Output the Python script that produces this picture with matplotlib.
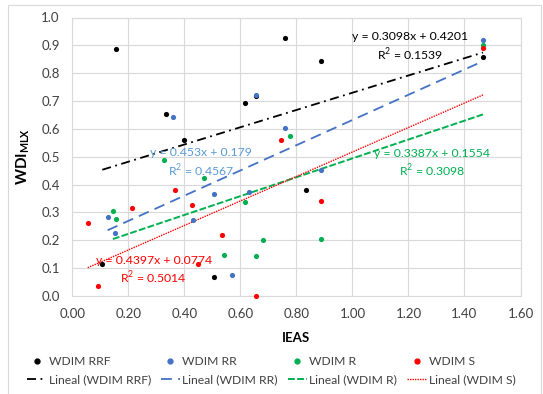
import matplotlib
matplotlib.use("Agg")
import matplotlib.pyplot as plt
from matplotlib.lines import Line2D
from matplotlib.patches import Rectangle
import numpy as np

plt.rcParams['font.family'] = ['Lato', 'DejaVu Sans']
plt.rcParams['mathtext.fontset'] = 'custom'
plt.rcParams['mathtext.rm'] = 'Lato'
plt.rcParams['mathtext.bf'] = 'Lato:bold'

# Series data (IEAS vs WDI_MLX)
rrf_x = [0.155, 0.760, 0.335, 0.617, 0.655, 0.400, 0.887, 1.466, 0.835, 0.107, 0.507]
rrf_y = [0.888, 0.927, 0.655, 0.693, 0.718, 0.560, 0.845, 0.859, 0.382, 0.114, 0.067]

rr_x = [0.360, 0.657, 0.760, 1.466, 0.505, 0.630, 0.126, 0.430, 0.154, 0.569, 0.887]
rr_y = [0.644, 0.723, 0.602, 0.918, 0.368, 0.374, 0.283, 0.272, 0.225, 0.074, 0.453]

r_x = [0.776, 1.466, 0.327, 0.470, 0.617, 0.145, 0.155, 0.682, 0.542, 0.657, 0.887]
r_y = [0.575, 0.901, 0.490, 0.424, 0.339, 0.304, 0.276, 0.200, 0.149, 0.142, 0.205]

s_x = [0.744, 1.466, 0.367, 0.214, 0.055, 0.426, 0.535, 0.448, 0.091, 0.656, 0.887]
s_y = [0.560, 0.891, 0.380, 0.317, 0.261, 0.326, 0.218, 0.115, 0.037, 0.000, 0.340]

# Linear trend coefficients (slope, intercept, R²)
rrf_fit = (0.3098, 0.4201, 0.1539)
rr_fit = (0.453, 0.179, 0.4567)
r_fit = (0.3387, 0.1554, 0.3098)
s_fit = (0.4397, 0.0774, 0.5014)

series_names = ["WDIM RRF", "WDIM RR", "WDIM R", "WDIM S"]
x_ticks = [0.0, 0.2, 0.4, 0.6, 0.8, 1.0, 1.2, 1.4, 1.6]
y_ticks = [0.0, 0.1, 0.2, 0.3, 0.4, 0.5, 0.6, 0.7, 0.8, 0.9, 1.0]

W, H = 543, 394
fig = plt.figure(figsize=(W / 100, H / 100), dpi=100)
ax = fig.add_axes([72.3 / W, 1 - 296 / H, (520.5 - 72.3) / W, (296 - 17.5) / H])

grid_c = '#D9D9D9'
ax.set_xlim(0, 1.6)
ax.set_ylim(0, 1.0)
ax.set_xticks(x_ticks)
ax.set_yticks(y_ticks)
ax.set_xticklabels([f"{v:.2f}" for v in x_ticks])
ax.set_yticklabels([f"{v:.1f}" for v in y_ticks])
ax.grid(True, color=grid_c, linewidth=0.8)
ax.set_axisbelow(True)
for sp in ax.spines.values():
    sp.set_color(grid_c)
    sp.set_linewidth(0.8)
ax.tick_params(length=0, labelsize=9.5, colors='#404040', pad=9)

colors = ['#000000', '#4472C4', '#00B050', '#FF0000']
line_styles = [(0, (5, 2.5, 1, 2.5)), (0, (6, 3.5)), (0, (3.5, 1.2)), (0, (1, 0.8))]
line_widths = [1.3, 1.3, 1.4, 1.0]
xs = [rrf_x, rr_x, r_x, s_x]
ys = [rrf_y, rr_y, r_y, s_y]
fits = [rrf_fit, rr_fit, r_fit, s_fit]

handles_pts, handles_lines = [], []
for name, c, x, y, fit, ls, lw in zip(series_names, colors, xs, ys, fits, line_styles, line_widths):
    ax.scatter(x, y, s=14, color=c, zorder=3, clip_on=False, linewidths=0)
    xx = np.array([min(x), max(x)])
    ax.plot(xx, fit[0] * xx + fit[1], color=c, linestyle=ls, linewidth=lw, zorder=2)
    handles_pts.append(Line2D([], [], marker='o', markersize=3.5, color=c, linestyle='none', label=name))
    handles_lines.append(Line2D([], [], color=c, linestyle=ls, linewidth=lw, label=f"Lineal ({name})"))

# Trend equations
eq_colors = ['#000000', '#5B9BD5', '#00B050', '#FF0000']
eq_pos = [(1.207, 0.893), (0.460, 0.476), (1.284, 0.474), (0.291, 0.090)]
for (sl, ic, r2), c, (px, py) in zip(fits, eq_colors, eq_pos):
    ax.text(px, py, f"y = {sl}x + {ic}\nR$^2$ = {r2}", color=c, fontsize=8.8,
            ha='center', va='center', linespacing=1.3, zorder=4)

ax.set_xlabel("IEAS", fontsize=9.5, fontweight='bold', color='#000000', labelpad=8)
ax.set_ylabel(r"$\mathbf{WDI_{MLX}}$", fontsize=11, color='#000000', labelpad=7)

# Legend (column-major order gives marker row on top, trend row below)
handles = []
for hp, hl in zip(handles_pts, handles_lines):
    handles += [hp, hl]
fig.legend(handles=handles, ncol=4, loc='center left', bbox_to_anchor=(27 / W, 1 - 371 / H),
           frameon=False, fontsize=8.7, handlelength=1.6, handletextpad=0.2,
           columnspacing=0.8, labelspacing=0.6, labelcolor='#404040',
           borderaxespad=0, borderpad=0)

# Chart area border
fig.patches.append(Rectangle((7.5 / W, -0.05), (541 - 7.5) / W, 1.05 - 5 / H,
                             transform=fig.transFigure, fill=False,
                             edgecolor=grid_c, linewidth=0.8))

fig.savefig("out.png", dpi=100)
